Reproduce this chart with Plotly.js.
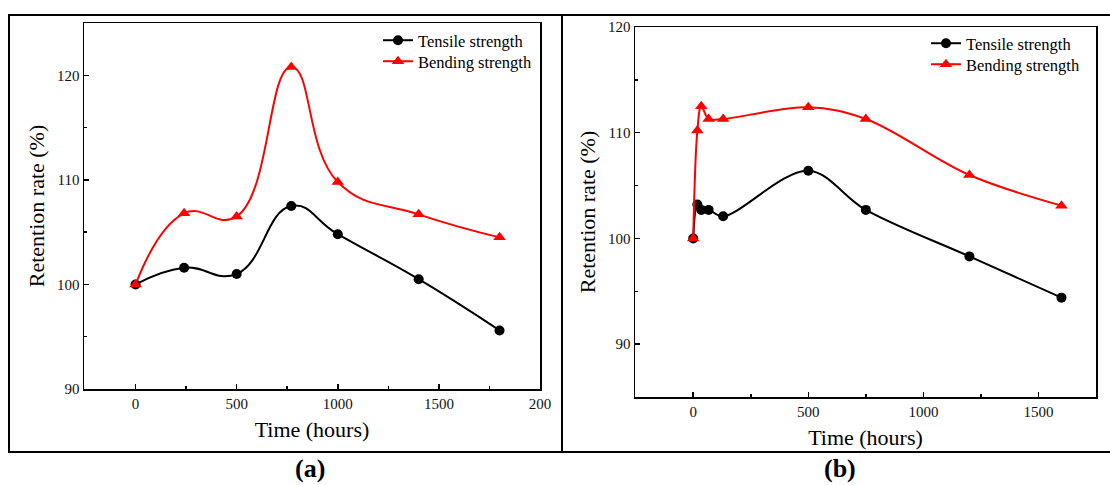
<!DOCTYPE html>
<html><head><meta charset="utf-8">
<script src="https://cdn.plot.ly/plotly-3.0.1.min.js"></script>
<style>html,body{margin:0;padding:0;background:#fff}#chart{width:1110px;height:485px}</style>
</head><body><div id="chart"></div>
<script>
// Panel (a)
const timeA = [0, 240, 500, 770, 1000, 1400, 1800];
const tensileA = [100, 101.6, 101.0, 107.5, 104.8, 100.5, 95.6];
const bendingA = [100, 106.8, 106.5, 120.8, 109.8, 106.7, 104.5];
// Panel (b)
const timeB = [0, 18, 35, 67, 130, 500, 750, 1200, 1600];
const tensileB = [100, 103.2, 102.7, 102.7, 102.1, 106.4, 102.7, 98.3, 94.4];
const bendingB = [100, 110.2, 112.5, 111.3, 111.3, 112.4, 111.3, 106.0, 103.1];
// tick labels
const xTickValsA = [0, 500, 1000, 1500, 2000];
const xTickTextA = ['0', '500', '1000', '1500', '200'];
const xTickValsB = [0, 500, 1000, 1500];
const xTickTextB = ['0', '500', '1000', '1500'];
const yTickVals = [90, 100, 110, 120];

const F = 'Liberation Serif, Times New Roman, serif';
const W = 1110, H = 485;
const px = v => v / W, py = v => 1 - v / H;

function tr(x, y, name, color, sym, size, xa, ya, leg, sm) {
  return {x, y, name, type: 'scatter', mode: 'lines+markers', xaxis: xa, yaxis: ya, legend: leg,
    line: {color, width: 2, shape: 'spline', smoothing: sm},
    marker: {color, symbol: sym, size}};
}
const data = [
  tr(timeA, tensileA, 'Tensile strength', '#000000', 'circle', 10, 'x', 'y', 'legend', 1.3),
  tr(timeA, bendingA, 'Bending strength', '#ff0000', 'triangle-up', 11, 'x', 'y', 'legend2', 1.3),
  tr(timeB, tensileB, 'Tensile strength', '#000000', 'circle', 10, 'x2', 'y2', 'legend3', 1.0),
  tr(timeB, bendingB, 'Bending strength', '#ff0000', 'triangle-up', 11, 'x2', 'y2', 'legend4', 1.0)
];
function xax(domain, range, tv, tt, minorVals, anchor) {
  return {domain, range, anchor, tickmode: 'array', tickvals: tv, ticktext: tt,
    ticks: 'inside', ticklen: 5, tickwidth: 1.5, tickcolor: '#000',
    minor: {tickmode: 'array', tickvals: minorVals, ticks: 'inside', ticklen: 3, tickwidth: 1.5, tickcolor: '#000'},
    showline: true, linewidth: 1.5, linecolor: '#000', mirror: true, showgrid: false, zeroline: false,
    tickfont: {family: F, size: 15, color: '#111'},
    title: {text: 'Time (hours)', font: {family: F, size: 22, color: '#000'}, standoff: 11}};
}
function yax(domain, range, anchor) {
  return {domain, range, anchor, tickmode: 'array', tickvals: yTickVals,
    ticks: 'inside', ticklen: 5, tickwidth: 1.5, tickcolor: '#000',
    minor: {tickmode: 'array', tickvals: [95, 105, 115], ticks: 'inside', ticklen: 3, tickwidth: 1.5, tickcolor: '#000'},
    showline: true, linewidth: 1.5, linecolor: '#000', mirror: true, showgrid: false, zeroline: false,
    tickfont: {family: F, size: 15, color: '#111'},
    title: {text: 'Retention rate (%)', font: {family: F, size: 22, color: '#000'}, standoff: 6}};
}
const legFont = {family: F, size: 16.5, color: '#000'};
function leg(x, y) {
  return {x: px(x), y: py(y), xanchor: 'left', yanchor: 'top', font: legFont, bgcolor: 'rgba(0,0,0,0)', borderwidth: 0, itemwidth: 30};
}
const layout = {
  width: W, height: H, margin: {l: 0, r: 0, t: 0, b: 0},
  paper_bgcolor: '#fff', plot_bgcolor: '#fff', showlegend: true,
  xaxis: xax([px(84), px(540)], [-255, 2000], xTickValsA, xTickTextA, [250, 750, 1250, 1750], 'y'),
  yaxis: yax([py(389), py(23)], [90, 125], 'x'),
  xaxis2: xax([px(635), px(1096)], [-253, 1750], xTickValsB, xTickTextB, [250, 750, 1250], 'y2'),
  yaxis2: yax([py(397), py(27)], [85, 120], 'x2'),
  legend: leg(378, 23),
  legend2: leg(378, 44),
  legend3: leg(926, 26),
  legend4: leg(926, 47),
  shapes: [
    {type: 'rect', xref: 'paper', yref: 'paper', x0: px(9), x1: px(1115), y0: py(452), y1: py(15), line: {color: '#000', width: 2}},
    {type: 'line', xref: 'paper', yref: 'paper', x0: px(562), x1: px(562), y0: py(452), y1: py(15), line: {color: '#000', width: 2}}
  ],
  annotations: [
    {text: '<b>(a)</b>', xref: 'paper', yref: 'paper', x: px(293), y: 0, yanchor: 'bottom', showarrow: false, font: {family: F, size: 26, color: '#000'}},
    {text: '<b>(b)</b>', xref: 'paper', yref: 'paper', x: px(858), y: 0, yanchor: 'bottom', showarrow: false, font: {family: F, size: 26, color: '#000'}}
  ]
};
Plotly.newPlot('chart', data, layout, {displayModeBar: false, staticPlot: true});
</script></body></html>
